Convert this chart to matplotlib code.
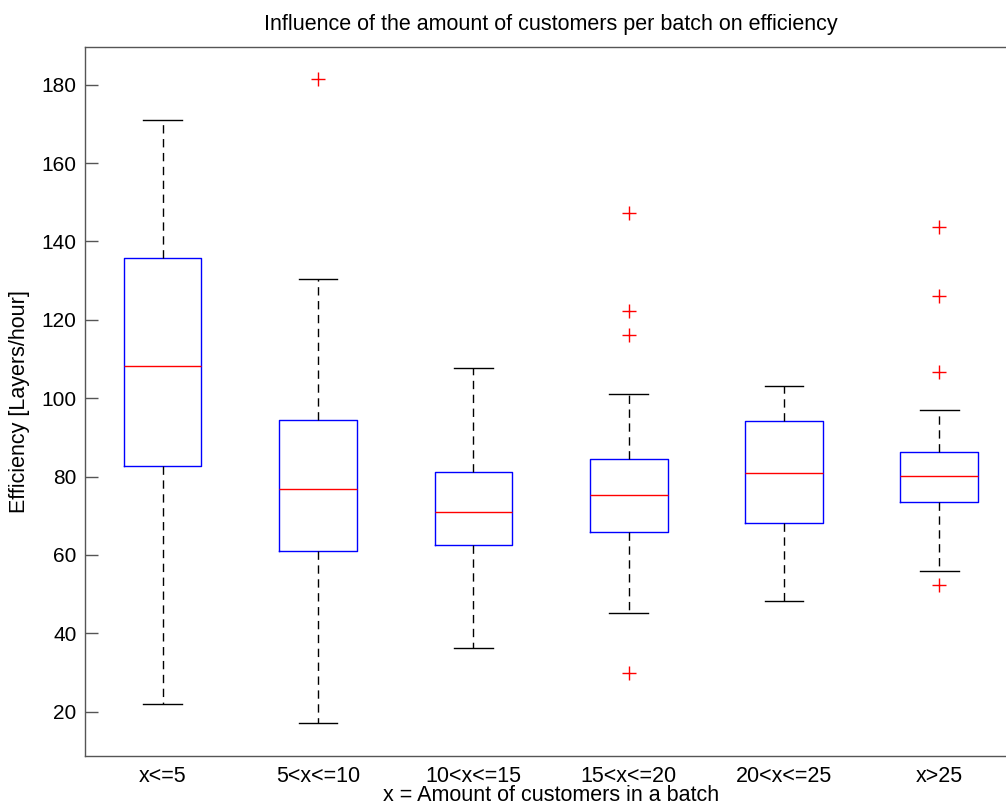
import matplotlib
matplotlib.use("Agg")
import matplotlib.pyplot as plt

# Batch-size groups and their box-plot statistics (Layers/hour)
groups = ["x<=5", "5<x<=10", "10<x<=15", "15<x<=20", "20<x<=25", "x>25"]
q1 = [82.7, 61.0, 62.6, 65.9, 68.2, 73.5]
medians = [108.3, 76.8, 71.0, 75.2, 80.9, 80.2]
q3 = [135.8, 94.5, 81.2, 84.6, 94.3, 86.3]
whisker_low = [22.0, 17.1, 36.3, 45.1, 48.2, 55.8]
whisker_high = [171.1, 130.5, 107.6, 101.0, 103.2, 97.1]
outliers = [
    [],
    [181.5],
    [],
    [147.2, 122.2, 116.2, 29.9],
    [],
    [143.7, 126.1, 106.6, 52.3],
]

plt.rcParams["font.family"] = ["Liberation Sans", "DejaVu Sans"]

fig = plt.figure(figsize=(10.06, 8.05), dpi=100)
ax = fig.add_axes([85 / 1006, 49 / 805, 932 / 1006, 709 / 805])

stats = []
for name, a, m, b, lo, hi, fl in zip(groups, q1, medians, q3,
                                     whisker_low, whisker_high, outliers):
    stats.append(dict(label=name, q1=a, med=m, q3=b,
                      whislo=lo, whishi=hi, fliers=fl))

ax.bxp(
    stats,
    positions=range(1, len(groups) + 1),
    widths=0.5,
    capwidths=0.25,
    showfliers=True,
    boxprops=dict(color="#0000ff", linewidth=1.0),
    medianprops=dict(color="#ff0000", linewidth=1.0),
    whiskerprops=dict(color="#000000", linewidth=1.0, linestyle=(0, (6, 4))),
    capprops=dict(color="#000000", linewidth=1.0),
    flierprops=dict(marker="+", markeredgecolor="#ff0000",
                    markerfacecolor="none", markersize=10, markeredgewidth=1.0,
                    linestyle="none"),
)

ax.set_xlim(0.5, 6.5)
ax.set_ylim(8.7, 189.6)
ax.set_yticks([20, 40, 60, 80, 100, 120, 140, 160, 180])

for side in ["left", "bottom", "top", "right"]:
    ax.spines[side].set_color("#555555")
    ax.spines[side].set_linewidth(1.0)

ax.tick_params(axis="y", direction="in", length=9, width=1.0,
               color="#555555", labelsize=15, pad=6)
ax.tick_params(axis="x", length=0, labelsize=15.5, pad=7)

ax.set_title("Influence of the amount of customers per batch on efficiency",
             fontsize=15.5, pad=12)
ax.set_xlabel("x = Amount of customers in a batch", fontsize=15.5, labelpad=-1)
ax.set_ylabel("Efficiency [Layers/hour]", fontsize=15.5, labelpad=8)

fig.savefig("out.png", dpi=100)
